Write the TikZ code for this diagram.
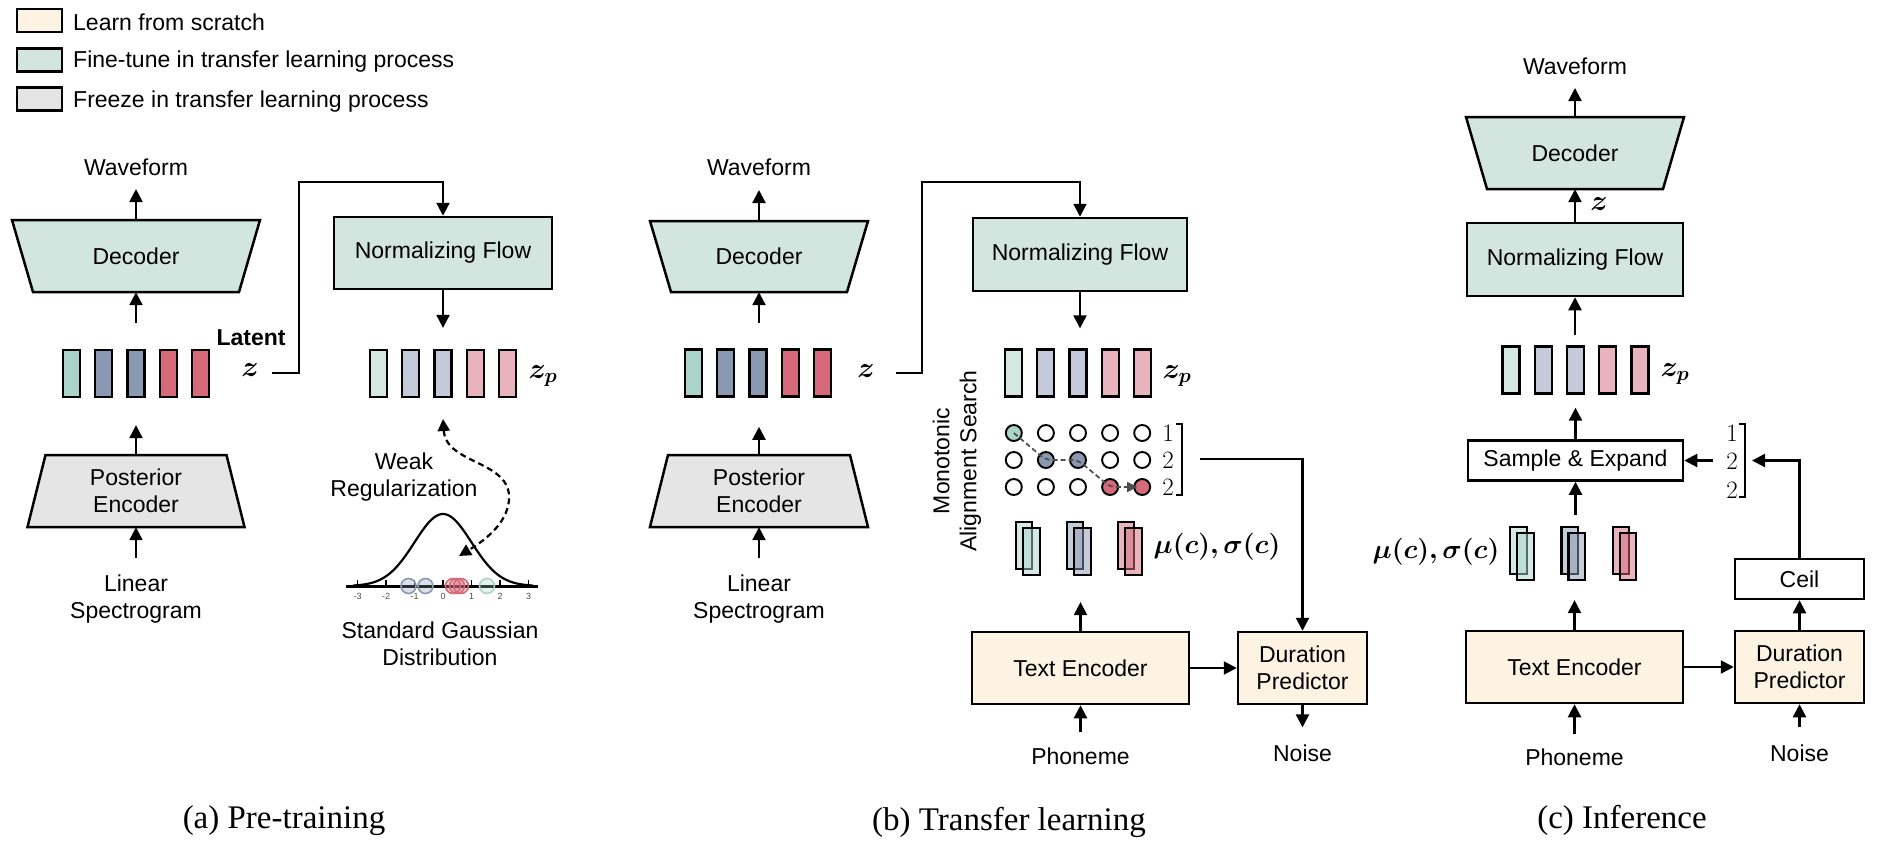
\RequirePackage{fix-cm}
\documentclass[tikz,border=0pt]{standalone}
\usepackage{amsmath}
\usepackage{bm}
\usepackage{fontspec}
\setmainfont{Liberation Sans}
\newfontfamily\capfont{Liberation Serif}
\usetikzlibrary{arrows.meta,calc}
\definecolor{cScratch}{HTML}{FDF3E3}
\definecolor{cFine}{HTML}{D2E5DF}
\definecolor{cFreeze}{HTML}{E5E5E5}
\definecolor{cG}{HTML}{A9D4C7}
\definecolor{cB}{HTML}{8A99B1}
\definecolor{cR}{HTML}{D56A7A}
\definecolor{cGl}{HTML}{D4E8E1}
\definecolor{cBl}{HTML}{C4CAD9}
\definecolor{cRl}{HTML}{E8B3BD}
\begin{document}
\begin{tikzpicture}[x=1pt,y=-1pt,
  lbl/.style={font=\fontsize{23}{27}\selectfont, inner sep=0pt, align=center},
  bx/.style={draw, line width=2.5pt, inner sep=0pt, align=center, font=\fontsize{23}{27}\selectfont},
  arr/.style={line width=2.2pt, -{Triangle[length=13pt,width=13pt]}},
  bar/.style={draw, line width=2.3pt, minimum width=17pt, minimum height=47pt, inner sep=0pt},
  mlbl/.style={font=\fontsize{29}{32}\selectfont, inner sep=0pt},
  num/.style={font=\fontsize{25}{28}\selectfont, inner sep=0pt},
  capt/.style={font=\capfont\fontsize{33}{38}\selectfont, inner sep=0pt},
  legbox/.style={draw, line width=2.2pt, minimum width=45pt, minimum height=23pt, inner sep=0pt},
  trap/.style={draw, line width=2.5pt, line join=miter},
  mu/.style={draw, line width=2.2pt, fill opacity=0.5, minimum width=16.5pt, minimum height=47pt, inner sep=0pt},
  circ/.style={draw, line width=1.9pt, circle, minimum size=16pt, inner sep=0pt},
  tick/.style={font=\fontsize{9}{10}\selectfont, text=black!70, inner sep=0pt},
]
\useasboundingbox (0,0) rectangle (1877,846);

% ---------------- legend ----------------
\node[legbox, fill=cScratch] (lg1) at (39.5,20.5) {};
\node[legbox, fill=cFine] (lg2) at (39.5,60) {};
\node[legbox, fill=cFreeze] (lg3) at (39.5,99) {};
\node[lbl, anchor=base west] (lt1) at (73,30) {Learn from scratch};
\node[lbl, anchor=base west] (lt2) at (73,67) {Fine-tune in transfer learning process};
\node[lbl, anchor=base west] (lt3) at (73,107) {Freeze in transfer learning process};

% ================= (a) Pre-training =================
\draw[trap, fill=cFine] (12,220) -- (260,220) -- (239,292) -- (33,292) -- cycle;
\node[lbl, minimum width=248pt, minimum height=72pt] (decA) at (136,256) {Decoder};
\node[lbl] (wfA) at (136,167) {Waveform};
\draw[arr] (decA.north) -- ($(wfA)+(0,22)$);

\foreach \i/\c in {1/cG,2/cB,3/cB,4/cR,5/cR}
  \node[bar, fill=\c] (zA\i) at ({136+32.2*(\i-3)},373.5) {};
\draw[arr] ($(zA3.north)+(0,-26)$) -- (decA.south);

\node[lbl, font=\bfseries\fontsize{23}{27}\selectfont] (latA) at (251,338) {Latent};
\node[mlbl] (zlA) at (250,370) {$\bm{z}$};

\node[bx, fill=cFine, minimum width=218pt, minimum height=72pt] (nfA) at (443,253) {Normalizing Flow};
\coordinate (zoutA) at (272,373);
\coordinate (cornA) at (299,182);
\draw[arr] (zoutA) -| (cornA) -| (nfA.north);

\foreach \i/\c in {1/cGl,2/cBl,3/cBl,4/cRl,5/cRl}
  \node[bar, fill=\c] (pA\i) at ({443+32.2*(\i-3)},373.5) {};
\draw[arr] (nfA.south) -- ($(pA3.north)+(0,-21)$);
\node[mlbl] (zpA) at (543,376) {$\bm{z_p}$};

\draw[trap, fill=cFreeze] (45.5,455) -- (226.5,455) -- (244.5,527) -- (27.5,527) -- cycle;
\node[lbl, minimum width=217pt, minimum height=72pt] (posA) at (136,491) {Posterior\\Encoder};
\draw[arr] (posA.north) -- ($(zA3.south)+(0,27)$);
\node[lbl] (inA) at (136,599) {Linear\\Spectrogram};
\draw[arr] ($(inA.north)+(0,-17)$) -- (posA.south);

% Gaussian
\node[lbl] (wrA) at (404,477) {Weak\\Regularization};
\draw[line width=3pt] (346,586) -- (538,586);
\foreach \k in {-3,...,3}
  \draw[line width=1.2pt] ({443+28.5*\k},580) -- ({443+28.5*\k},586);
\foreach \k [count=\i] in {-3,...,3}
  \node[tick] (tkA\i) at ({443+28.5*\k},596) {\k};
\draw[line width=2.2pt] plot[domain=-3.15:3.15, samples=90, smooth] ({443+28.5*\x},{586-72*exp(-0.5*\x*\x)});
\foreach \xx in {408.5,425.5}
  \draw[line width=1.6pt, draw=cB, fill=cB, fill opacity=0.3] (\xx,586) circle[radius=7.5pt];
\foreach \xx in {453,457,461}
  \draw[line width=1.6pt, draw=cR, fill=cR, fill opacity=0.3] (\xx,586) circle[radius=7.5pt];
\draw[line width=1.6pt, draw=cG, fill=cG, fill opacity=0.3] (487,586) circle[radius=7.5pt];
\coordinate (dtop) at (443,419);
\coordinate (dbot) at (459,556);
\draw[line width=2.2pt, dash pattern=on 6pt off 4pt,
  {Triangle[length=12pt,width=12pt]}-{Triangle[length=12pt,width=12pt]}]
  (dtop) .. controls (446,465) and (512,460) .. (509,500) .. controls (507,525) and (482,542) .. (dbot);
\node[lbl] (sgA) at (440,644) {Standard Gaussian\\Distribution};

\node[capt] (capA) at (284,821) {(a) Pre-training};

% ================= (b) Transfer learning =================
\draw[trap, fill=cFine] (650,221) -- (868,221) -- (847,292) -- (671,292) -- cycle;
\node[lbl, minimum width=218pt, minimum height=71pt] (decB) at (759,256.5) {Decoder};
\node[lbl] (wfB) at (759,167) {Waveform};
\draw[arr] (decB.north) -- ($(wfB)+(0,23)$);

\foreach \i/\c in {1/cG,2/cB,3/cB,4/cR,5/cR}
  \node[bar, fill=\c] (zB\i) at ({758+32.3*(\i-3)},373) {};
\draw[arr] ($(decB.south |- zB3.north)+(0,-25)$) -- (decB.south);
\node[mlbl] (zlB) at (866,371) {$\bm{z}$};

\node[bx, fill=cFine, minimum width=214pt, minimum height=73pt] (nfB) at (1080,254.5) {Normalizing Flow};
\coordinate (zoutB) at (896,373);
\coordinate (cornB) at (922,182);
\draw[arr] (zoutB) -| (cornB) -| (nfB.north);

\foreach \i/\c in {1/cGl,2/cBl,3/cBl,4/cRl,5/cRl}
  \node[bar, fill=\c] (pB\i) at ({1078+32.2*(\i-3)},373) {};
\draw[arr] (nfB.south) -- ($(nfB.south |- pB3.north)+(0,-20)$);
\node[mlbl] (zpB) at (1177,376) {$\bm{z_p}$};

% monotonic alignment search
\foreach \c/\r/\f in {0/0/cG,1/0/white,2/0/white,3/0/white,4/0/white,
                      0/1/white,1/1/cB,2/1/cB,3/1/white,4/1/white,
                      0/2/white,1/2/white,2/2/white,3/2/cR,4/2/cR}
  \node[circ, fill=\f] (m\c\r) at ({1078+32.1*(\c-2)},{433+27*\r}) {};
\draw[line width=1.7pt, draw=black!70, dash pattern=on 5pt off 3pt, rounded corners=6pt,
  -{Triangle[length=10pt,width=10pt]}, shorten >=5pt]
  (m00.center) -- (m11.center) -- (m21.center) -- (m32.center) -- (m42.center);
\node[num] (nB1) at (1168,433) {$1$};
\node[num] (nB2) at (1168,460) {$2$};
\node[num] (nB3) at (1168,487) {$2$};
\draw[line width=1.8pt] (1176,424) -- (1182,424) -- (1182,495) -- (1176,495);
\node[lbl, rotate=90] (masB) at (957,461) {Monotonic\\Alignment Search};

\foreach \k/\c in {0/cG,1/cB,2/cR}{
  \node[mu, fill=\c] (muBb\k) at ({1024+51*\k},545.5) {};
  \node[mu, fill=\c] (muBf\k) at ({1031.5+51*\k},551.5) {};
}
\node[mlbl, font=\fontsize{27}{30}\selectfont] (musB) at (1217,547) {$\bm{\mu(c),\sigma(c)}$};

\draw[trap, fill=cFreeze] (668,455) -- (850,455) -- (868,527) -- (650,527) -- cycle;
\node[lbl, minimum width=218pt, minimum height=72pt] (posB) at (759,491) {Posterior\\Encoder};
\draw[arr] (posB.north) -- ($(posB.north)+(0,-28)$);
\node[lbl] (inB) at (759,599) {Linear\\Spectrogram};
\draw[arr] ($(inB.north)+(0,-17)$) -- (posB.south);

\node[bx, fill=cScratch, minimum width=217pt, minimum height=72pt] (teB) at (1080.5,668) {Text Encoder};
\node[bx, fill=cScratch, minimum width=129pt, minimum height=72pt] (dpB) at (1302.5,668) {Duration\\Predictor};
\draw[arr] (teB.east) -- (dpB.west);
\draw[arr] (teB.north) -- ($(teB.north |- muBf1.south)+(0,26)$);
\coordinate (masout) at (1200,459);
\draw[arr] (masout) -| (dpB.north);
\node[lbl] (phB) at (1080.5,756) {Phoneme};
\draw[arr] ($(phB.north)+(0,-15)$) -- (teB.south);
\node[lbl] (noB) at (1302.5,753) {Noise};
\draw[arr] (dpB.south) -- ($(noB.north)+(0,-17)$);

\node[capt] (capB) at (1009,822) {(b) Transfer learning};

% ================= (c) Inference =================
\draw[trap, fill=cFine] (1466,117) -- (1684,117) -- (1663,189) -- (1487,189) -- cycle;
\node[lbl, minimum width=218pt, minimum height=72pt] (decC) at (1575,153) {Decoder};
\node[lbl] (wfC) at (1575,66) {Waveform};
\draw[arr] (decC.north) -- ($(wfC)+(0,22)$);

\node[bx, fill=cFine, minimum width=216pt, minimum height=73pt] (nfC) at (1575,259.5) {Normalizing Flow};
\draw[arr] (nfC.north) -- (decC.south);
\node[mlbl] (zlC) at (1599,204) {$\bm{z}$};

\foreach \i/\c in {1/cGl,2/cBl,3/cBl,4/cRl,5/cRl}
  \node[bar, fill=\c] (qC\i) at ({1575.5+32.2*(\i-3)},370) {};
\draw[arr] ($(nfC.south |- qC3.north)+(0,-10)$) -- (nfC.south);
\node[mlbl] (zpC) at (1675,374) {$\bm{z_p}$};

\node[bx, fill=white, minimum width=215pt, minimum height=40pt] (seC) at (1575.5,460.5) {Sample \& Expand};
\draw[arr] (seC.north) -- ($(seC.north |- qC3.south)+(0,13)$);

\node[num] (nC1) at (1732,433) {$1$};
\node[num] (nC2) at (1732,461) {$2$};
\node[num] (nC3) at (1732,490) {$2$};
\draw[line width=1.8pt] (1739,424) -- (1745,424) -- (1745,497) -- (1739,497);
\coordinate (numoutC) at (1713,460.5);
\draw[arr] (numoutC) -- (seC.east);

\node[bx, fill=white, minimum width=129pt, minimum height=40pt] (ceilC) at (1799.5,579) {Ceil};
\coordinate (brC) at (1752,460.5);
\draw[arr] (ceilC.north) |- (brC);

\foreach \k/\c in {0/cG,1/cB,2/cR}{
  \node[mu, fill=\c] (muCb\k) at ({1518.5+51.3*\k},550.5) {};
  \node[mu, fill=\c] (muCf\k) at ({1525.5+51.3*\k},556.5) {};
}
\node[mlbl, font=\fontsize{27}{30}\selectfont] (musC) at (1436,552) {$\bm{\mu(c),\sigma(c)}$};
\draw[arr] ($(seC.south |- muCb1.north)+(0,-11)$) -- (seC.south);

\node[bx, fill=cScratch, minimum width=217pt, minimum height=72pt] (teC) at (1574.5,667) {Text Encoder};
\node[bx, fill=cScratch, minimum width=129pt, minimum height=72pt] (dpC) at (1799.5,667) {Duration\\Predictor};
\draw[arr] (teC.north) -- ($(teC.north |- muCf1.south)+(0,19)$);
\draw[arr] (teC.east) -- (dpC.west);
\draw[arr] (dpC.north) -- (ceilC.south);
\node[lbl] (phC) at (1574.5,757) {Phoneme};
\draw[arr] ($(phC.north)+(0,-14)$) -- (teC.south);
\node[lbl] (noC) at (1799.5,753) {Noise};
\draw[arr] ($(noC.north)+(0,-17)$) -- (dpC.south);

\node[capt] (capC) at (1622,820) {(c) Inference};
\end{tikzpicture}
\end{document}
